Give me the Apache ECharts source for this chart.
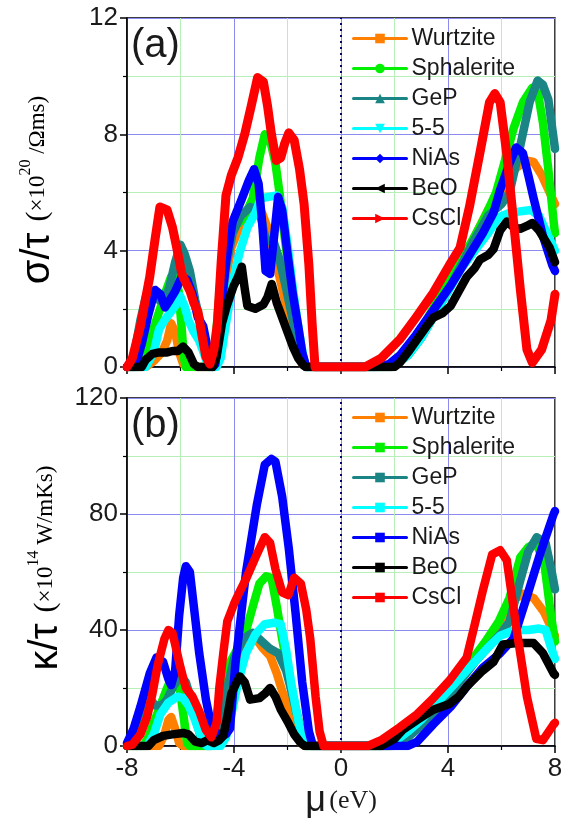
<!DOCTYPE html>
<html><head><meta charset="utf-8">
<script src="https://cdn.jsdelivr.net/npm/echarts@6/dist/echarts.min.js"></script>
<style>html,body{margin:0;padding:0;background:#fff}#c{width:567px;height:825px}</style>
</head><body><div id="c"></div>
<script>
const seriesNames = ['Wurtzite','Sphalerite','GeP','5-5','NiAs','BeO','CsCl'];
const seriesColors = ['#ff8000','#00f000','#1b8585','#00ffff','#0000ff','#000000','#ff0000'];
const topSymbols = ['rect','circle','triangle','path://M0,0 L10,0 L5,10 Z','diamond','path://M10,0 L10,10 L0,5 Z','path://M0,0 L10,5 L0,10 Z'];
const xTicks = [-8,-4,0,4,8];
const sigmaTicks = [0,4,8,12];
const kappaTicks = [0,40,80,120];

// panel (a): sigma/tau (x10^20 /Ohm m s)
const wurtziteS = [[-8,0],[-7.3,0],[-7.0,0.2],[-6.7,0.5],[-6.5,0.9],[-6.35,1.5],[-6.2,1.2],[-6.05,0.5],[-5.9,0.1],[-5.5,0],[-4.8,0],[-4.6,0.5],[-4.35,2.8],[-4.1,4.1],[-3.8,4.8],[-3.5,5.3],[-3.2,5.5],[-2.95,5.3],[-2.75,4.8],[-2.55,3.8],[-2.35,3.3],[-2.15,2.5],[-1.9,1.5],[-1.65,0.6],[-1.45,0.1],[-1.3,0],[1.9,0],[2.5,0.5],[3.0,1.1],[3.5,1.9],[4.0,2.7],[4.5,3.6],[5.0,4.5],[5.5,5.4],[6.0,6.1],[6.5,6.8],[6.9,7.1],[7.2,7.05],[7.5,6.6],[7.7,6.2],[8,5.6]];
const sphaleriteS = [[-8,0],[-7.55,0],[-7.3,0.3],[-7.05,1.2],[-6.8,1.9],[-6.55,2.6],[-6.35,3.1],[-6.2,3.2],[-6.07,2.6],[-5.97,1.5],[-5.87,0.3],[-5.8,0],[-4.9,0],[-4.7,0.8],[-4.5,3.0],[-4.3,4.3],[-4.0,4.8],[-3.65,5.1],[-3.3,5.8],[-3.05,7.2],[-2.85,8.0],[-2.65,7.8],[-2.45,7.0],[-2.3,6.0],[-2.15,4.8],[-1.95,3.3],[-1.7,1.8],[-1.5,0.6],[-1.3,0],[1.8,0],[2.5,0.6],[3.0,1.3],[3.5,2.1],[4.0,2.9],[4.5,3.7],[5.0,4.5],[5.4,5.2],[5.8,6.0],[6.1,7.0],[6.45,8.2],[6.8,9.1],[7.15,9.6],[7.35,9.5],[7.55,8.4],[7.75,6.8],[7.95,5.0],[8,4.6]];
const gepS = [[-8,0],[-7.85,0.1],[-7.7,0.6],[-7.5,1.6],[-7.3,2.4],[-7.05,2.6],[-6.8,2.3],[-6.6,2.2],[-6.4,2.8],[-6.2,3.6],[-6.0,4.2],[-5.85,3.9],[-5.65,3.3],[-5.45,2.3],[-5.2,1.3],[-5.0,0.4],[-4.85,0],[-4.75,0],[-4.6,0.6],[-4.35,3.2],[-4.05,4.6],[-3.75,5.2],[-3.4,5.5],[-3.05,5.4],[-2.8,4.3],[-2.55,4.4],[-2.3,3.7],[-2.05,2.7],[-1.8,1.6],[-1.55,0.6],[-1.3,0],[1.9,0],[2.5,0.4],[3.0,1.0],[3.5,1.8],[4.0,2.6],[4.5,3.5],[5.0,4.4],[5.5,5.2],[6.0,5.6],[6.3,6.0],[6.7,7.6],[7.05,9.1],[7.35,9.85],[7.55,9.7],[7.75,9.2],[8,7.5]];
const fiveS = [[-8,0],[-7.3,0],[-7.0,0.5],[-6.8,1.3],[-6.6,1.6],[-6.4,1.85],[-6.2,2.1],[-6.02,2.45],[-5.85,2.1],[-5.7,1.6],[-5.5,1.2],[-5.3,0.9],[-5.1,0.4],[-4.95,0],[-4.65,0],[-4.5,0.3],[-4.3,1.5],[-4.05,2.9],[-3.8,3.9],[-3.5,4.8],[-3.2,5.3],[-3.0,5.8],[-2.7,5.85],[-2.4,5.9],[-2.2,5.5],[-2.0,4.2],[-1.8,2.7],[-1.6,1.4],[-1.4,0.3],[-1.3,0],[1.9,0],[2.5,0.4],[3.0,1.0],[3.5,1.8],[4.0,2.6],[4.5,3.4],[5.0,4.0],[5.5,4.6],[5.9,5.15],[6.3,5.3],[6.7,5.35],[7.1,5.4],[7.4,5.2],[7.7,4.6],[8,4.0]];
const niasS = [[-8,0],[-7.7,0],[-7.45,0.8],[-7.2,1.8],[-6.95,2.65],[-6.75,2.5],[-6.58,2.05],[-6.4,2.3],[-6.2,2.6],[-5.96,3.1],[-5.75,3.0],[-5.55,2.5],[-5.35,1.7],[-5.15,1.4],[-5.0,0.7],[-4.9,0.2],[-4.8,0],[-4.7,0.1],[-4.6,0.8],[-4.3,3.6],[-4.05,5.0],[-3.7,5.8],[-3.45,6.4],[-3.25,6.8],[-3.08,6.3],[-2.95,5.0],[-2.82,3.3],[-2.65,3.2],[-2.5,4.5],[-2.35,5.85],[-2.2,5.4],[-2.0,3.9],[-1.8,2.5],[-1.6,1.4],[-1.45,0.5],[-1.3,0],[1.3,0],[1.8,0.1],[2.2,0.4],[2.8,1.1],[3.45,1.95],[4.1,2.8],[4.7,3.7],[5.3,4.6],[5.7,5.3],[5.95,6.1],[6.3,7.0],[6.55,7.55],[6.8,7.35],[7.0,6.6],[7.2,5.8],[7.55,4.5],[7.9,3.5],[8,3.3]];
const beoS = [[-8,0],[-7.45,0],[-7.3,0.25],[-7.05,0.45],[-6.8,0.5],[-6.5,0.5],[-6.3,0.55],[-6.1,0.55],[-5.9,0.7],[-5.7,0.5],[-5.5,0.1],[-5.35,0],[-4.8,0],[-4.65,0.35],[-4.45,1.5],[-4.27,2.1],[-4.03,2.75],[-3.85,3.1],[-3.71,3.45],[-3.6,2.7],[-3.5,2.1],[-3.2,2.0],[-2.9,2.15],[-2.75,2.4],[-2.59,2.85],[-2.4,2.2],[-2.2,1.7],[-2.0,1.2],[-1.8,0.7],[-1.6,0.3],[-1.4,0.05],[-1.3,0],[2.0,0],[2.2,0.15],[2.5,0.5],[2.85,0.95],[3.2,1.4],[3.45,1.7],[3.8,1.85],[4.1,2.1],[4.4,2.6],[4.7,3.1],[5.0,3.4],[5.2,3.7],[5.5,3.85],[5.7,4.05],[5.95,4.7],[6.2,5.0],[6.45,4.8],[6.7,4.75],[6.95,4.85],[7.15,4.95],[7.4,4.7],[7.6,4.4],[7.8,4.1],[8,3.6]];
const csclS = [[-8,0],[-7.8,0.3],[-7.5,1.4],[-7.15,3.1],[-6.95,4.4],[-6.77,5.5],[-6.5,5.4],[-6.3,4.8],[-6.14,4.1],[-5.95,3.2],[-5.8,2.9],[-5.64,2.6],[-5.5,2.2],[-5.35,1.9],[-5.2,1.1],[-5.05,0.35],[-4.9,0.1],[-4.75,0.6],[-4.62,1.5],[-4.48,3.6],[-4.3,5.9],[-4.1,6.6],[-3.85,7.2],[-3.6,8.0],[-3.35,9.0],[-3.12,9.95],[-2.9,9.8],[-2.75,9.0],[-2.6,8.0],[-2.42,7.1],[-2.25,7.2],[-2.1,7.7],[-1.95,8.05],[-1.75,7.8],[-1.55,6.8],[-1.38,5.6],[-1.2,3.5],[-1.08,1.5],[-0.97,0],[0.9,0],[1.5,0.3],[2.2,0.95],[2.8,1.7],[3.45,2.55],[4.05,3.5],[4.45,4.1],[4.8,5.5],[5.2,7.4],[5.55,9.1],[5.75,9.4],[5.95,9.1],[6.2,7.3],[6.45,5.0],[6.7,2.7],[6.95,0.6],[7.15,0.15],[7.5,0.6],[7.85,1.6],[8,2.5]];

// panel (b): kappa/tau (x10^14 W/mKs)
const wurtziteK = [[-8,0],[-6.8,0],[-6.6,4],[-6.45,9],[-6.35,10],[-6.2,6],[-6.05,1],[-5.9,0],[-4.8,0],[-4.6,5],[-4.3,18],[-4.0,29],[-3.6,36],[-3.25,38],[-2.95,34],[-2.65,31],[-2.4,25],[-2.2,19],[-2.0,14],[-1.75,6],[-1.5,1],[-1.35,0],[1.9,0],[2.5,3.5],[3.0,7.5],[3.5,12],[4.0,17],[4.5,23],[5.0,29],[5.5,36],[6.0,44],[6.4,50],[6.8,52.5],[7.2,51],[7.6,46],[8,38]];
const sphaleriteK = [[-8,0],[-7.4,0],[-7.2,3],[-7.0,8],[-6.75,14],[-6.5,20],[-6.3,24],[-6.14,25.5],[-6.0,18],[-5.85,8],[-5.75,1],[-5.65,0],[-4.9,0],[-4.7,8],[-4.45,20],[-4.2,28],[-3.9,33],[-3.6,38],[-3.3,48],[-3.05,56],[-2.8,58.5],[-2.6,58],[-2.4,48],[-2.2,37],[-2.0,27],[-1.75,15],[-1.5,5],[-1.3,0],[1.8,0],[2.5,4],[3.0,8],[3.5,13],[4.0,19],[4.5,25],[5.0,31],[5.4,36],[5.9,43],[6.3,51],[6.7,65],[7.0,68.5],[7.3,70],[7.6,63],[7.85,45],[8,36]];
const gepK = [[-8,0],[-7.75,3],[-7.5,11],[-7.2,17],[-6.95,14],[-6.7,14],[-6.5,16],[-6.25,21],[-6.0,24],[-5.8,22],[-5.6,16],[-5.4,8],[-5.2,2],[-5.0,0],[-4.85,0],[-4.6,5],[-4.3,18],[-4.0,30],[-3.65,37],[-3.3,39],[-2.95,36],[-2.65,33.5],[-2.35,32],[-2.05,26],[-1.8,17],[-1.55,7],[-1.3,0],[2.0,0],[2.5,3],[3.0,7],[3.5,12],[4.0,17],[4.5,23],[5.0,29],[5.5,34],[6.0,39],[6.3,43],[6.7,57],[7.0,67],[7.32,72],[7.65,70],[7.9,59],[8,54]];
const fiveK = [[-8,0],[-7.25,0],[-7.0,4],[-6.75,11],[-6.45,15],[-6.1,17],[-5.9,16.5],[-5.7,14],[-5.5,10],[-5.3,5],[-5.1,0.5],[-5.0,0],[-4.5,0],[-4.3,3],[-4.05,13],[-3.85,22],[-3.55,32],[-3.2,38.5],[-2.85,42],[-2.5,42.5],[-2.25,42],[-2.05,33],[-1.85,21],[-1.6,9],[-1.4,1],[-1.3,0],[1.8,0],[2.5,5],[3.0,9],[3.5,14],[4.0,19],[4.5,24],[5.0,29],[5.5,34],[5.95,38],[6.5,40],[7.0,40],[7.4,40.5],[7.65,40],[7.85,34],[8,30]];
const niasK = [[-8,1],[-7.75,6],[-7.5,13.5],[-7.15,25],[-6.9,30.5],[-6.65,29],[-6.45,23],[-6.35,21],[-6.2,26],[-6.05,45],[-5.9,58],[-5.8,62],[-5.65,60],[-5.5,48],[-5.3,32],[-5.05,16],[-4.85,7],[-4.6,4],[-4.3,4],[-4.15,6],[-3.95,28],[-3.55,60],[-3.15,83],[-2.85,97],[-2.6,99],[-2.45,98],[-2.2,86],[-1.95,68],[-1.7,46],[-1.45,22],[-1.2,5],[-1.05,0],[2.5,0],[2.85,1.5],[3.45,7.5],[4.1,13.5],[4.7,20.5],[5.3,27],[5.95,32],[6.45,37],[6.95,51.5],[7.45,66.5],[7.95,80],[8,81]];
const beoK = [[-8,0],[-7.2,0],[-7.0,2],[-6.65,3.5],[-6.3,4],[-5.9,4.5],[-5.7,4],[-5.45,1.5],[-5.2,1],[-5.0,2],[-4.75,1],[-4.55,2],[-4.4,3.5],[-4.25,10],[-4.1,18],[-3.95,21],[-3.78,24],[-3.6,22],[-3.4,16],[-3.05,16.5],[-2.85,18],[-2.65,20],[-2.45,17],[-2.25,12.5],[-2.0,8.5],[-1.75,4],[-1.5,1],[-1.35,0],[1.5,0],[2.0,2.5],[2.3,5.5],[2.85,9],[3.45,12.5],[4.05,14.5],[4.4,17],[4.7,20.5],[5.3,26],[5.7,29],[6.05,35],[6.6,35.5],[7.2,35.5],[7.55,32],[7.95,25],[8,24.5]];
const csclK = [[-8,0],[-7.8,0.5],[-7.5,4],[-7.25,10],[-7.05,18],[-6.85,28],[-6.6,37],[-6.45,40],[-6.3,39],[-6.15,33],[-6.0,27],[-5.8,20],[-5.55,17],[-5.3,12],[-5.05,5.5],[-4.85,3],[-4.65,8],[-4.55,20],[-4.4,32],[-4.25,43],[-4.0,49],[-3.8,53],[-3.53,58],[-3.15,66],[-2.85,72],[-2.65,70],[-2.45,61],[-2.2,53],[-1.97,52],[-1.75,58],[-1.5,56],[-1.3,47],[-1.15,37],[-0.95,17],[-0.8,5],[-0.65,0],[1.0,0],[1.5,2],[2.2,6.5],[2.85,11],[3.45,16.5],[4.05,22.5],[4.7,30.5],[4.95,40],[5.3,53.5],[5.65,66],[5.95,67.5],[6.2,64],[6.55,41],[6.95,17],[7.3,2.5],[7.55,2],[7.95,7.5],[8,8]];

const topData = [wurtziteS, sphaleriteS, gepS, fiveS, niasS, beoS, csclS];
const botData = [wurtziteK, sphaleriteK, gepK, fiveK, niasK, beoK, csclK];

const SANS = 'Liberation Sans, Arial, sans-serif';
const SERIF = 'Liberation Serif, Times New Roman, serif';
const MAJOR = '#8c8cf0';
const MINOR = '#b8eeb8';

function xAxis(gi, showLabels) {
  return {
    type: 'value', gridIndex: gi, min: -8, max: 8, interval: 4,
    axisLine: { show: true, onZero: false, lineStyle: { color: '#000', width: 1.5 } },
    axisTick: { show: true, length: 7, lineStyle: { color: '#000', width: 1.5 } },
    minorTick: { show: true, splitNumber: 2, length: 4, lineStyle: { color: '#000', width: 1.2 } },
    splitLine: { show: true, lineStyle: { color: MAJOR, width: 1 } },
    minorSplitLine: { show: true, lineStyle: { color: MINOR, width: 1 } },
    axisLabel: { show: showLabels, fontSize: 26, fontFamily: SANS, color: '#1a1a1a', margin: 10,
      customValues: xTicks },
    name: showLabels ? '{m|\u03bc} {e|(eV)}' : '',
    nameLocation: 'middle', nameGap: 36,
    nameTextStyle: { rich: {
      m: { fontSize: 36, fontFamily: SANS, color: '#1a1a1a' },
      e: { fontSize: 26, fontFamily: SERIF, color: '#1a1a1a' } } }
  };
}
function yAxis(gi, max, interval) {
  return {
    type: 'value', gridIndex: gi, min: 0, max: max, interval: interval,
    axisLine: { show: true, onZero: false, lineStyle: { color: '#000', width: 1.5 } },
    axisTick: { show: true, length: 7, lineStyle: { color: '#000', width: 1.5 } },
    minorTick: { show: true, splitNumber: 2, length: 4, lineStyle: { color: '#000', width: 1.2 } },
    splitLine: { show: true, lineStyle: { color: MAJOR, width: 1 } },
    minorSplitLine: { show: true, lineStyle: { color: MINOR, width: 1 } },
    axisLabel: { fontSize: 26, fontFamily: SANS, color: '#1a1a1a', margin: 9 }
  };
}

const series = [];
seriesNames.forEach((n, i) => {
  series.push({
    name: n, type: 'line', xAxisIndex: 0, yAxisIndex: 0, data: topData[i],
    symbol: topSymbols[i], showSymbol: false, symbolSize: 9,
    itemStyle: { color: seriesColors[i] },
    lineStyle: { color: seriesColors[i], width: i === 6 ? 9 : 8.5, join: 'round', cap: 'round' },
    z: 3 + i, animation: false
  });
});
seriesNames.forEach((n, i) => {
  series.push({
    name: n + ' (b)', type: 'line', xAxisIndex: 1, yAxisIndex: 1, data: botData[i],
    symbol: 'rect', showSymbol: false, symbolSize: 9,
    itemStyle: { color: seriesColors[i] },
    lineStyle: { color: seriesColors[i], width: 8.5, join: 'round', cap: 'round' },
    z: 3 + i, animation: false
  });
});
const zeroLine = {
  silent: true, symbol: ['none', 'none'], label: { show: false }, animation: false,
  lineStyle: { type: [2, 4], color: '#000070', width: 2 },
  data: [{ xAxis: 0 }]
};
series[0].markLine = zeroLine;
series[7].markLine = zeroLine;

function legend(top, isB) {
  return {
    orient: 'vertical', left: 347, top: top, itemWidth: 53, itemHeight: 12, itemGap: 7,
    data: seriesNames.map(n => isB ? n + ' (b)' : n),
    formatter: n => n.replace(' (b)', ''),
    textStyle: { fontSize: 23, fontFamily: SANS, color: '#1a1a1a', lineHeight: 22 },
    lineStyle: { width: 3 },
    selectedMode: false
  };
}

const yTitleRich = {
  a: { fontSize: 40, fontFamily: SANS, color: '#1a1a1a' },
  b: { fontSize: 23, fontFamily: SERIF, color: '#1a1a1a' },
  p: { fontSize: 30, fontFamily: SERIF, color: '#1a1a1a' },
  s: { fontSize: 16, fontFamily: SERIF, color: '#1a1a1a', verticalAlign: 'top' }
};

const option = {
  backgroundColor: '#fff',
  animation: false,
  grid: [
    { left: 127, top: 18, width: 428, height: 349, show: true, borderColor: '#000', borderWidth: 1.5, backgroundColor: 'transparent' },
    { left: 127, top: 398, width: 428, height: 348, show: true, borderColor: '#000', borderWidth: 1.5, backgroundColor: 'transparent' }
  ],
  xAxis: [xAxis(0, false), xAxis(1, true)],
  yAxis: [yAxis(0, 12, 4), yAxis(1, 120, 40)],
  legend: [legend(22, false), legend(401, true)],
  series: series,
  graphic: [
    { type: 'text', x: 131, y: 46, z: 100, style: { text: '(a)', fontSize: 40, fontFamily: SANS, fill: '#1a1a1a', verticalAlign: 'middle' } },
    { type: 'text', x: 131, y: 426, z: 100, style: { text: '(b)', fontSize: 40, fontFamily: SANS, fill: '#1a1a1a', verticalAlign: 'middle' } },
    { type: 'text', x: 38, y: 190, rotation: Math.PI / 2, z: 100,
      style: { text: '{a|\u03c3/\u03c4 }{p|(}{b|\u00d710}{s|20}{b| /\u03a9ms)}', rich: yTitleRich, align: 'center', verticalAlign: 'middle' } },
    { type: 'text', x: 46, y: 568, rotation: Math.PI / 2, z: 100,
      style: { text: '{a|\u03ba/\u03c4 }{p|(}{b|\u00d710}{s|14}{b| W/mKs)}', rich: yTitleRich, align: 'center', verticalAlign: 'middle' } }
  ]
};
const chart = echarts.init(document.getElementById('c'), null, { renderer: 'canvas' });
chart.setOption(option);
</script>
</body></html>
